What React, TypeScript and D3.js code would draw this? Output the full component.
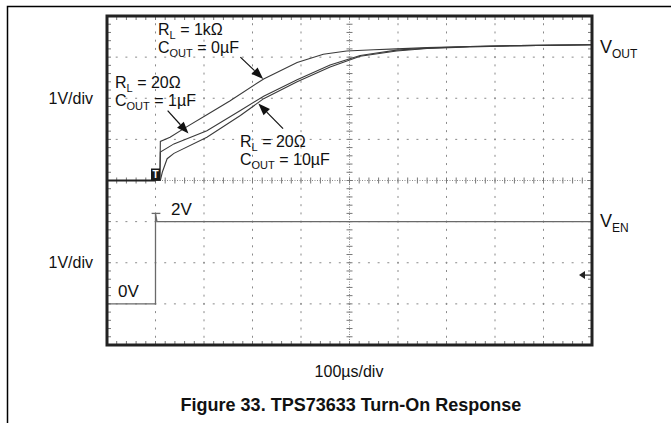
import React, { useEffect, useRef } from "react";
import * as d3 from "d3";

const W = 671;
const H = 423;
const FONT = "'Liberation Sans', Arial, Helvetica, sans-serif";

// horizontal: 100us/div, 10 divisions, trigger at first division
const timeDomain = [-100, 900];
// vertical: 8 divisions, both channels 1V/div
const divDomain = [0, 8];
const voutGroundDiv = 4;
const venGroundDiv = 1;

// RL = 1kOhm, COUT = 0uF
const t1k = [-100, 0, 9, 10, 30, 65, 106, 154, 223, 292, 346, 394, 450, 497, 560, 648, 750, 900];
const v1k = [0, 0, 0, 0.95, 1.05, 1.31, 1.6, 1.94, 2.47, 2.87, 3.07, 3.15, 3.18, 3.2, 3.23, 3.26, 3.28, 3.3];

// RL = 20Ohm, COUT = 1uF
const t1u = [-100, 0, 9, 10, 38, 106, 175, 223, 292, 360, 422, 449, 497, 560, 648, 750, 900];
const v1u = [0, 0, 0, 0.69, 0.89, 1.21, 1.7, 2.05, 2.45, 2.81, 3.04, 3.09, 3.17, 3.22, 3.26, 3.28, 3.3];

// RL = 20Ohm, COUT = 10uF
const t10u = [-100, 0, 10, 14, 24, 38, 106, 175, 223, 292, 360, 422, 497, 560, 648, 750, 900];
const v10u = [0, 0, 0, 0.2, 0.53, 0.66, 1.05, 1.58, 1.99, 2.4, 2.76, 3.02, 3.15, 3.21, 3.25, 3.28, 3.3];

// enable pin
const tEn = [-100, 0, 0, 3, 900];
const vEn = [0, 0, 2.2, 2.0, 2.0];

// arrows: [tailT, tailV, tipT, tipV]
const arrows = [
  [175, 3.0, 222, 2.47],
  [25, 1.7, 68, 1.14],
  [263, 1.26, 212, 1.87],
];

const zip = (t: number[], v: number[]) => t.map((d, i) => [d, v[i]] as [number, number]);

const addSub = (g, x, y, main, sub, rest, size, anchor = "start") => {
  const txt = g.append("text")
    .attr("x", x).attr("y", y)
    .attr("text-anchor", anchor)
    .style("font-family", FONT)
    .style("font-size", size + "px")
    .style("fill", "#111");
  txt.append("tspan").text(main);
  txt.append("tspan").attr("dy", size * 0.28).style("font-size", Math.round(size * 0.68) + "px").text(sub);
  if (rest) txt.append("tspan").attr("dy", -size * 0.28).text(rest);
  return txt;
};

export default function App() {
  const svgRef = useRef<SVGSVGElement>(null);

  useEffect(() => {
    const svg = d3.select(svgRef.current);
    svg.selectAll("*").remove();

    const x = d3.scaleLinear().domain(timeDomain).range([107, 592]);
    const yDiv = d3.scaleLinear().domain(divDomain).range([345, 16]);
    const yOut = (v: number) => yDiv(voutGroundDiv + v);
    const yEn = (v: number) => yDiv(venGroundDiv + v);

    // page frame
    svg.append("path")
      .attr("d", `M7.5,${H}V6.5H${W}`)
      .attr("fill", "none")
      .attr("stroke", "#000")
      .attr("stroke-width", 1.5);

    // scope graticule
    const grid = svg.append("g");
    const xMinor = d3.range(-100, 900.01, 20);
    const yMinor = d3.range(0, 8.001, 0.2);
    const xMajor = d3.range(0, 801, 100);
    const yMajor = d3.range(1, 8, 1);

    xMajor.filter((t) => t !== 400).forEach((t) => {
      grid.selectAll(null).data(yMinor).enter().append("rect")
        .attr("x", x(t) - 0.5).attr("y", (d) => yDiv(d) - 1)
        .attr("width", 1).attr("height", 2).attr("fill", "#8a8a8a");
    });
    yMajor.filter((d) => d !== 4).forEach((m) => {
      grid.selectAll(null).data(xMinor).enter().append("rect")
        .attr("x", (t) => x(t) - 1).attr("y", yDiv(m) - 0.5)
        .attr("width", 2).attr("height", 1).attr("fill", "#8a8a8a");
    });

    // center axes
    grid.append("line")
      .attr("x1", x(400)).attr("x2", x(400)).attr("y1", yDiv(0)).attr("y2", yDiv(8))
      .attr("stroke", "#888").attr("stroke-dasharray", "1,1.5");
    grid.append("line")
      .attr("x1", x(-100)).attr("x2", x(900)).attr("y1", yDiv(4)).attr("y2", yDiv(4))
      .attr("stroke", "#888").attr("stroke-dasharray", "1,1.5");
    grid.selectAll(null).data(yMinor).enter().append("line")
      .attr("x1", x(400) - 3).attr("x2", x(400) + 3)
      .attr("y1", (d) => yDiv(d)).attr("y2", (d) => yDiv(d))
      .attr("stroke", "#777");
    grid.selectAll(null).data(xMinor).enter().append("line")
      .attr("x1", (t) => x(t)).attr("x2", (t) => x(t))
      .attr("y1", yDiv(4) - 3).attr("y2", yDiv(4) + 3)
      .attr("stroke", "#777");

    // border ticks
    grid.selectAll(null).data(xMinor).enter().append("line")
      .attr("x1", (t) => x(t)).attr("x2", (t) => x(t))
      .attr("y1", yDiv(8)).attr("y2", yDiv(8) + 4)
      .attr("stroke", "#777");
    grid.selectAll(null).data(xMinor).enter().append("line")
      .attr("x1", (t) => x(t)).attr("x2", (t) => x(t))
      .attr("y1", yDiv(0)).attr("y2", yDiv(0) - 4)
      .attr("stroke", "#777");
    grid.selectAll(null).data(yMinor).enter().append("line")
      .attr("x1", x(-100)).attr("x2", x(-100) + 4)
      .attr("y1", (d) => yDiv(d)).attr("y2", (d) => yDiv(d))
      .attr("stroke", "#777");
    grid.selectAll(null).data(yMinor).enter().append("line")
      .attr("x1", x(900)).attr("x2", x(900) - 4)
      .attr("y1", (d) => yDiv(d)).attr("y2", (d) => yDiv(d))
      .attr("stroke", "#777");

    // traces
    const lineOut = d3.line<[number, number]>().x((d) => x(d[0])).y((d) => yOut(d[1]));
    const lineEn = d3.line<[number, number]>().x((d) => x(d[0])).y((d) => yEn(d[1]));

    [[t10u, v10u], [t1u, v1u], [t1k, v1k]].forEach(([t, v]) => {
      svg.append("path")
        .attr("d", lineOut(zip(t, v)))
        .attr("fill", "none")
        .attr("stroke", "#3a3a3a")
        .attr("stroke-width", 1.1);
    });
    // thicker baseline where the three traces overlap
    svg.append("path")
      .attr("d", lineOut(zip(t1k.slice(0, 2), v1k.slice(0, 2))))
      .attr("stroke", "#222").attr("stroke-width", 2);

    svg.append("path")
      .attr("d", lineEn(zip(tEn, vEn)))
      .attr("fill", "none")
      .attr("stroke", "#6a6a6a")
      .attr("stroke-width", 1.3);
    // overshoot cap of the enable edge
    svg.append("line")
      .attr("x1", x(-8)).attr("x2", x(10))
      .attr("y1", yEn(2.2)).attr("y2", yEn(2.2))
      .attr("stroke", "#6a6a6a").attr("stroke-width", 1.3);

    // trigger marker
    svg.append("rect")
      .attr("x", x(0) - 4.5).attr("y", yOut(0) - 12)
      .attr("width", 9).attr("height", 12)
      .attr("fill", "#1a1a1a");
    svg.append("text")
      .attr("x", x(0)).attr("y", yOut(0) - 2.5)
      .attr("text-anchor", "middle")
      .style("font-family", FONT).style("font-size", "10px").style("font-weight", "bold")
      .style("fill", "#fff")
      .text("T");

    // channel reference marker on right edge
    const my = yDiv(1.7);
    svg.append("line")
      .attr("x1", x(900) - 8).attr("x2", x(900)).attr("y1", my).attr("y2", my)
      .attr("stroke", "#222").attr("stroke-width", 1.2);
    svg.append("path")
      .attr("d", `M${x(900) - 13},${my}L${x(900) - 7},${my - 4}L${x(900) - 7},${my + 4}Z`)
      .attr("fill", "#222");

    // border
    svg.append("rect")
      .attr("x", x(-100)).attr("y", yDiv(8))
      .attr("width", x(900) - x(-100)).attr("height", yDiv(0) - yDiv(8))
      .attr("fill", "none")
      .attr("stroke", "#222")
      .attr("stroke-width", 3);

    // annotation arrows
    arrows.forEach(([t0, v0, t1, v1]) => {
      const x0 = x(t0), y0 = yOut(v0), x1 = x(t1), y1 = yOut(v1);
      const len = Math.hypot(x1 - x0, y1 - y0);
      const ux = (x1 - x0) / len, uy = (y1 - y0) / len;
      const hl = 12, hw = 4.5;
      const bx = x1 - ux * hl, by = y1 - uy * hl;
      svg.append("line")
        .attr("x1", x0).attr("y1", y0).attr("x2", bx).attr("y2", by)
        .attr("stroke", "#111").attr("stroke-width", 1.2);
      svg.append("path")
        .attr("d", `M${x1},${y1}L${bx - uy * hw},${by + ux * hw}L${bx + uy * hw},${by - ux * hw}Z`)
        .attr("fill", "#111");
    });

    // labels
    const lab = svg.append("g");
    addSub(lab, 158, 35, "R", "L", " = 1k\u03A9", 16);
    addSub(lab, 158, 53, "C", "OUT", " = 0\u00B5F", 16);
    addSub(lab, 115, 88, "R", "L", " = 20\u03A9", 16);
    addSub(lab, 115, 106, "C", "OUT", " = 1\u00B5F", 16);
    addSub(lab, 240, 147, "R", "L", " = 20\u03A9", 16);
    addSub(lab, 240, 165, "C", "OUT", " = 10\u00B5F", 16);

    addSub(lab, 600, 53, "V", "OUT", "", 18);
    addSub(lab, 600, 227, "V", "EN", "", 18);

    const plain = (tx, ty, s, size, anchor = "start", weight = "normal") =>
      lab.append("text")
        .attr("x", tx).attr("y", ty)
        .attr("text-anchor", anchor)
        .style("font-family", FONT)
        .style("font-size", size + "px")
        .style("font-weight", weight)
        .style("fill", "#111")
        .text(s);

    plain(93, 104, "1V/div", 16, "end");
    plain(93, 268, "1V/div", 16, "end");
    plain(171, 215, "2V", 17);
    plain(118, 297, "0V", 17);
    plain(349, 377, "100\u00B5s/div", 16, "middle");
    plain(351, 411, "Figure 33. TPS73633 Turn-On Response", 18, "middle", "bold");
  }, []);

  return (
    <svg
      ref={svgRef}
      width={W}
      height={H}
      style={{ position: "absolute", left: 0, top: 0, background: "#fff" }}
    />
  );
}
